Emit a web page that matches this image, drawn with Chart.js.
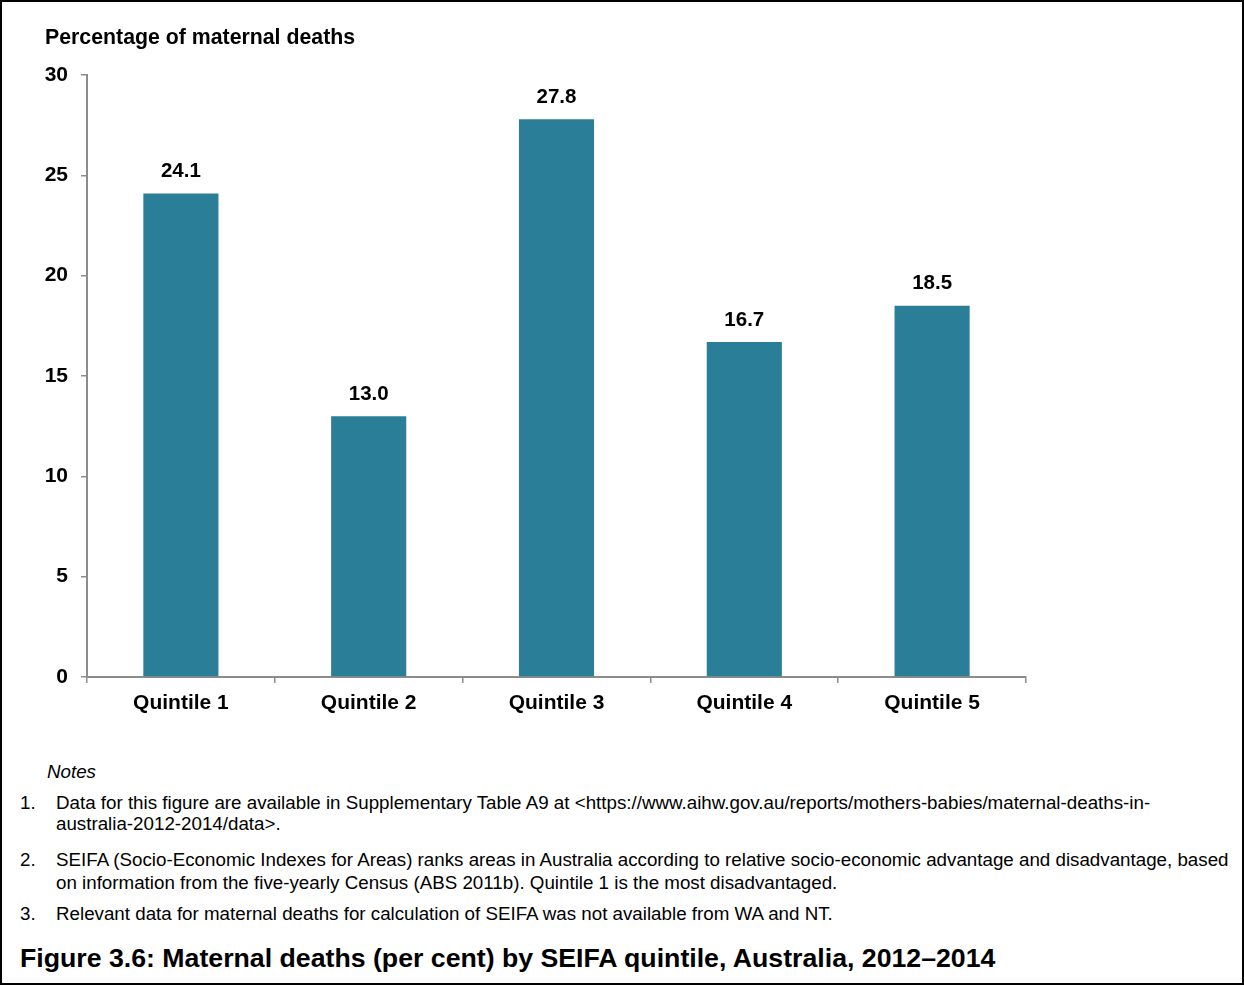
<!DOCTYPE html>
<html>
<head>
<meta charset="utf-8">
<script src="https://cdn.jsdelivr.net/npm/chart.js@4"></script>
<style>
  html, body { margin: 0; padding: 0; background: #fff; }
  body { width: 1244px; height: 985px; position: relative; overflow: hidden; font-family: 'Liberation Sans', Arial, sans-serif; color: #000; }
  #frame { position: absolute; left: 0; top: 0; width: 1244px; height: 985px; box-sizing: border-box; border: 2px solid #000; pointer-events: none; }
  #chartBox { position: absolute; left: 0; top: 0; width: 1244px; height: 730px; }
  .txt { position: absolute; white-space: nowrap; line-height: 22px; }
  .ytitle { left: 45px; top: 26px; font-weight: bold; font-size: 21.3px; }
  .note { font-size: 18.75px; }
  .num { left: 20px; }
  .body { left: 56px; }
  .caption { left: 20px; top: 943px; font-weight: bold; font-size: 26.7px; line-height: 30px; }
</style>
</head>
<body>
<div id="chartBox"><canvas id="chart" width="1244" height="730"></canvas></div>
<div class="txt ytitle">Percentage of maternal deaths</div>

<div class="txt note" style="left:47px; top:761px; font-style:italic;">Notes</div>
<div class="txt note num" style="top:792px;">1.</div>
<div class="txt note body" style="top:792px;">Data for this figure are available in Supplementary Table A9 at &lt;https://www.aihw.gov.au/reports/mothers-babies/maternal-deaths-in-</div>
<div class="txt note body" style="top:813px;">australia-2012-2014/data&gt;.</div>
<div class="txt note num" style="top:849px;">2.</div>
<div class="txt note body" style="top:849px;">SEIFA (Socio-Economic Indexes for Areas) ranks areas in Australia according to relative socio-economic advantage and disadvantage, based</div>
<div class="txt note body" style="top:872px;">on information from the five-yearly Census (ABS 2011b). Quintile 1 is the most disadvantaged.</div>
<div class="txt note num" style="top:903px;">3.</div>
<div class="txt note body" style="top:903px;">Relevant data for maternal deaths for calculation of SEIFA was not available from WA and NT.</div>

<div class="txt caption">Figure 3.6: Maternal deaths (per cent) by SEIFA quintile, Australia, 2012–2014</div>
<div id="frame"></div>

<script>
// Chart data
const quintiles = ['Quintile 1', 'Quintile 2', 'Quintile 3', 'Quintile 4', 'Quintile 5'];
const deathPct = [24.1, 13.0, 27.8, 16.7, 18.5];
const yTicks = [0, 5, 10, 15, 20, 25, 30];

const FONT = "'Liberation Sans', Arial, sans-serif";
const AXIS_GREY = '#8c8c8c';

// Draw value labels above each bar
const valueLabels = {
    id: 'valueLabels',
    afterDatasetsDraw(chart) {
        const ctx = chart.ctx;
        const meta = chart.getDatasetMeta(0);
        ctx.save();
        ctx.font = 'bold 20.5px ' + FONT;
        ctx.fillStyle = '#000';
        ctx.textAlign = 'center';
        ctx.textBaseline = 'middle';
        meta.data.forEach((bar, i) => {
            ctx.fillText(deathPct[i].toFixed(1), bar.x, bar.y - 22);
        });
        ctx.restore();
    }
};

new Chart(document.getElementById('chart'), {
    type: 'bar',
    data: {
        labels: quintiles,
        datasets: [{
            data: deathPct,
            backgroundColor: '#2b7e98',
            barPercentage: 0.4,
            categoryPercentage: 1.0
        }]
    },
    options: {
        responsive: false,
        animation: false,
        layout: { padding: { top: 75, right: 218, bottom: 0, left: 0 } },
        plugins: {
            legend: { display: false },
            tooltip: { enabled: false }
        },
        scales: {
            x: {
                afterFit: (scale) => { scale.height = 53; },
                grid: { drawOnChartArea: false, drawTicks: true, tickLength: 6, color: AXIS_GREY, lineWidth: 1.5, offset: true },
                border: { display: true, color: AXIS_GREY, width: 2 },
                ticks: { color: '#000', font: { family: FONT, size: 21, weight: 'bold' }, padding: 8 }
            },
            y: {
                min: 0,
                max: 30,
                afterFit: (scale) => { scale.width = 87; },
                afterBuildTicks: (scale) => { scale.ticks = yTicks.map(v => ({ value: v })); },
                grid: { drawOnChartArea: false, drawTicks: true, tickLength: 6, color: AXIS_GREY, lineWidth: 1.5 },
                border: { display: true, color: AXIS_GREY, width: 2 },
                ticks: { color: '#000', font: { family: FONT, size: 21, weight: 'bold' }, padding: 13 }
            }
        }
    },
    plugins: [valueLabels]
});
</script>
</body>
</html>
